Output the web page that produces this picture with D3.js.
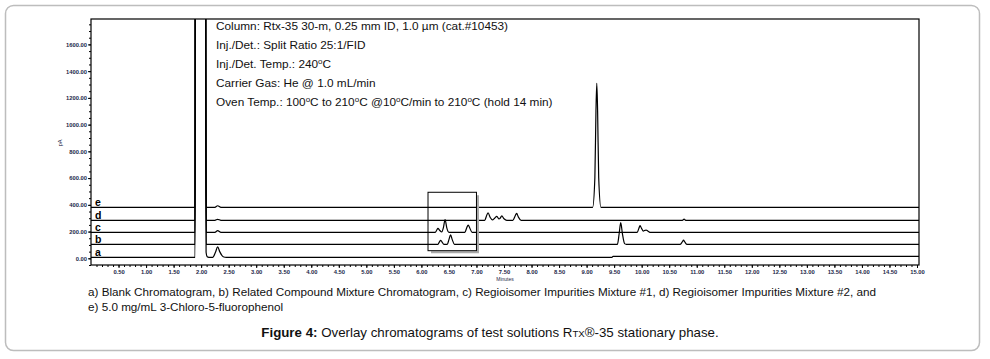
<!DOCTYPE html>
<html>
<head>
<meta charset="utf-8">
<script src="https://cdn.jsdelivr.net/npm/d3@7"></script>
<style>
body{margin:0;background:#fff}
svg{display:block}
</style>
</head>
<body>
<svg id="chart" width="990" height="359"></svg>
<script>
// chromatogram traces, [minutes, pA]
var traceA = [[0,7.5],[1.89,7.5],[1.90,5000],[2.07,5000],[2.09,45],[2.11,12],[2.14,7.5],[2.21,7.5],[2.26,45],[2.30,85],[2.34,48],[2.40,12],[2.46,7.5],[9.46,7.5],[9.48,15],[15.1,15]];
var traceB = [[0,105],[1.89,105],[1.90,5000],[2.07,5000],[2.09,105],[6.30,105],[6.33,125],[6.35,135],[6.37,125],[6.41,105],[6.47,105],[6.50,140],[6.53,175],[6.56,140],[6.60,105],[9.56,105],[9.59,180],[9.62,267],[9.65,185],[9.69,110],[9.72,105],[10.70,105],[10.74,125],[10.76,137],[10.78,125],[10.82,105],[15.1,105]];
var traceC = [[0,194.5],[1.89,194.5],[1.90,5000],[2.07,5000],[2.09,194.5],[2.25,194.5],[2.30,207],[2.36,194.5],[6.25,194.5],[6.28,212],[6.30,224],[6.33,210],[6.37,197],[6.40,230],[6.43,290],[6.46,230],[6.50,194.5],[6.79,194.5],[6.82,225],[6.85,249],[6.88,225],[6.92,194.5],[9.92,194.5],[9.95,225],[9.97,244],[10.00,222],[10.03,203],[10.05,208],[10.08,211],[10.11,205],[10.15,194.5],[15.1,194.5]];
var traceD = [[0,284],[1.89,284],[1.90,5000],[2.07,5000],[2.09,284],[2.25,284],[2.30,292],[2.36,284],[7.15,284],[7.18,315],[7.21,341],[7.25,305],[7.29,287],[7.33,300],[7.37,314],[7.41,294],[7.43,300],[7.46,317],[7.50,296],[7.55,284],[7.66,284],[7.70,315],[7.73,336],[7.76,310],[7.81,284],[10.74,284],[10.77,293],[10.80,284],[15.1,284]];
var traceE = [[0,381.5],[1.89,381.5],[1.90,5000],[2.07,5000],[2.09,381.5],[2.25,381.5],[2.30,393],[2.36,381.5],[9.11,381.5],[9.15,600],[9.17,1100],[9.185,1309],[9.20,1100],[9.22,600],[9.26,381.5],[15.1,381.5]];

var traceNames = ['a', 'b', 'c', 'd', 'e'];
var traceBase = [7.5, 105, 194.5, 284, 381.5];

var xTicks = [0.5,1,1.5,2,2.5,3,3.5,4,4.5,5,5.5,6,6.5,7,7.5,8,8.5,9,9.5,10,10.5,11,11.5,12,12.5,13,13.5,14,14.5,15];
var yTicks = [0,200,400,600,800,1000,1200,1400,1600];

// boxed region of the overlay (minutes, pA)
var boxTime = [6.12, 7.0];
var boxPA = [57, 494];

var conditions = [
    "Column: Rtx-35 30-m, 0.25 mm ID, 1.0 \u00b5m (cat.#10453)",
    "Inj./Det.: Split Ratio 25:1/FID",
    "Inj./Det. Temp.: 240^oC",
    "Carrier Gas: He @ 1.0 mL/min",
    "Oven Temp.: 100^oC to 210^oC @10^oC/min to 210^oC (hold 14 min)"
];
var legendLines = [
    "a) Blank Chromatogram, b) Related Compound Mixture Chromatogram, c) Regioisomer Impurities Mixture #1, d) Regioisomer Impurities Mixture #2, and",
    "e) 5.0 mg/mL 3-Chloro-5-fluorophenol"
];

var svg = d3.select('#chart');
var plotL = 91, plotR = 919, plotT = 19, plotB = 265;

var x = d3.scaleLinear().domain([0, 15]).range([plotL, 917]);
var y = d3.scaleLinear().domain([-50, 1790]).range([plotB, plotT]);

// outer panel border
svg.append('rect')
    .attr('x', 5.5).attr('y', 5.5)
    .attr('width', 974).attr('height', 345)
    .attr('rx', 8).attr('ry', 8)
    .attr('fill', 'none')
    .attr('stroke', '#bdbdbd')
    .attr('stroke-width', 1.5);

svg.append('clipPath').attr('id', 'plotClip')
    .append('rect')
    .attr('x', plotL).attr('y', plotT)
    .attr('width', plotR - plotL).attr('height', plotB - plotT);

// axes
var tickFont = 'Liberation Sans, Arial, sans-serif';

var yMinor = svg.append('g')
    .attr('transform', 'translate(' + plotL + ',0)')
    .call(d3.axisLeft(y).tickValues(d3.range(-50, 1790, 50)).tickSize(2).tickFormat(''));
yMinor.select('.domain').remove();

var yAxis = svg.append('g')
    .attr('transform', 'translate(' + plotL + ',0)')
    .call(d3.axisLeft(y).tickValues(yTicks).tickSize(3).tickPadding(1).tickFormat(d3.format('.2f')));
yAxis.select('.domain').remove();

var xMinor = svg.append('g')
    .attr('transform', 'translate(0,' + plotB + ')')
    .call(d3.axisBottom(x).tickValues(d3.range(0.1, 15.01, 0.1)).tickSize(2).tickFormat(''));
xMinor.select('.domain').remove();

var xAxis = svg.append('g')
    .attr('transform', 'translate(0,' + plotB + ')')
    .call(d3.axisBottom(x).tickValues(xTicks).tickSize(3).tickPadding(2).tickFormat(d3.format('.2f')));
xAxis.select('.domain').remove();

svg.selectAll('.tick line').attr('stroke', '#000').attr('stroke-width', 1);
svg.selectAll('.tick text')
    .attr('font-family', tickFont)
    .attr('font-size', 5.8)
    .attr('font-weight', 'bold')
    .attr('fill', '#1b1f48');

svg.append('text')
    .attr('transform', 'translate(62,143) rotate(-90)')
    .attr('text-anchor', 'middle')
    .attr('font-family', tickFont)
    .attr('font-size', 5.5)
    .attr('fill', '#1b1f48')
    .text('pA');

svg.append('text')
    .attr('x', 505).attr('y', 281)
    .attr('text-anchor', 'middle')
    .attr('font-family', tickFont)
    .attr('font-size', 5)
    .attr('fill', '#1b1f48')
    .text('Minutes');

// traces
var line = d3.line()
    .x(function(d){return x(d[0]);})
    .y(function(d){return y(d[1]);})
    .curve(d3.curveMonotoneX);

var traces = [traceA, traceB, traceC, traceD, traceE];

svg.append('g')
    .attr('clip-path', 'url(#plotClip)')
    .selectAll('path')
    .data(traces)
    .enter()
    .append('path')
    .attr('d', line)
    .attr('fill', 'none')
    .attr('stroke', '#000')
    .attr('stroke-width', 1.2)
    .attr('stroke-linejoin', 'round');

svg.append('g')
    .selectAll('text')
    .data(traceNames)
    .enter()
    .append('text')
    .attr('x', 95)
    .attr('y', function(d,i){return y(traceBase[i]) - 1.5;})
    .attr('font-family', tickFont)
    .attr('font-size', 10.5)
    .attr('font-weight', 'bold')
    .text(function(d){return d;});

// frame
svg.append('rect')
    .attr('x', plotL).attr('y', plotT)
    .attr('width', plotR - plotL).attr('height', plotB - plotT)
    .attr('fill', 'none')
    .attr('stroke', '#000')
    .attr('stroke-width', 1.2);

// inset box with shadow
var bx = x(boxTime[0]), bw = x(boxTime[1]) - x(boxTime[0]);
var by = y(boxPA[1]), bh = y(boxPA[0]) - y(boxPA[1]);
svg.append('path')
    .attr('d', 'M' + (bx + bw + 1.5) + ',' + (by + 3) + 'V' + (by + bh + 1.5) + 'H' + (bx + 3))
    .attr('fill', 'none')
    .attr('stroke', '#a8a8a8')
    .attr('stroke-width', 2);
svg.append('rect')
    .attr('x', bx).attr('y', by)
    .attr('width', bw).attr('height', bh)
    .attr('fill', 'none')
    .attr('stroke', '#000')
    .attr('stroke-width', 1);

// run conditions
var cond = svg.append('g').attr('font-family', tickFont).attr('font-size', 11.8).attr('fill', '#111');
conditions.forEach(function(s, i){
    var t = cond.append('text').attr('x', 216).attr('y', 30 + i * 19);
    var parts = s.split('^o');
    parts.forEach(function(p, j){
	if (j > 0) {
	    t.append('tspan').attr('dy', -4.5).attr('font-size', 8).text('o');
	    t.append('tspan').attr('dy', 4.5).text(p);
	} else {
	    t.append('tspan').text(p);
	}
    });
});

// legend and caption
svg.append('g')
    .attr('font-family', tickFont)
    .attr('font-size', 11.7)
    .attr('fill', '#111')
    .selectAll('text')
    .data(legendLines)
    .enter()
    .append('text')
    .attr('x', 88)
    .attr('y', function(d,i){return 296 + i * 15;})
    .text(function(d){return d;});

var cap = svg.append('text')
    .attr('x', 490).attr('y', 337)
    .attr('text-anchor', 'middle')
    .attr('font-family', 'Liberation Sans Narrow, Arial Narrow, sans-serif')
    .attr('font-size', 13.3)
    .attr('fill', '#111');
cap.append('tspan').attr('font-weight', 'bold').text('Figure 4:');
cap.append('tspan').text(' Overlay chromatograms of test solutions R');
cap.append('tspan').attr('font-size', 9.6).text('TX');
cap.append('tspan').text('\u00ae-35 stationary phase.');
</script>
</body>
</html>
